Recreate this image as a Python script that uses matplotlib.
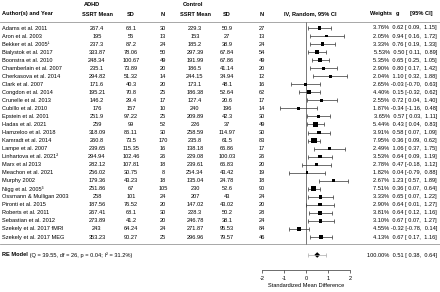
# forest plot: SSRT, ADHD vs control, random-effects meta-analysis

import numpy as np
import matplotlib
matplotlib.use('Agg')
import matplotlib.pyplot as plt

plt.rcParams['font.family'] = ['Liberation Sans', 'DejaVu Sans']
plt.rcParams['axes.unicode_minus'] = False

# Study data
authors = ['Adams et al. 2011', 'Aron et al. 2003', 'Bekker et al. 2005¹', 'Bialystok et al. 2017',
           'Boonstra et al. 2010', 'Chamberlain et al. 2007', 'Cherkasova et al. 2014', 'Clark et al. 2007',
           'Congdon et al. 2014', 'Crunelle et al. 2013', 'Cubillo et al. 2010', 'Epstein et al. 2001',
           'Hadas et al. 2021', 'Hamzeloo et al. 2018', 'Kamradt et al. 2014', 'Lampe et al. 2007',
           'Linhartova et al. 2021²', 'Marx et al 2013', 'Meachon et al. 2021', 'Murphy 2002',
           'Nigg et al. 2005³', 'Ossmann & Mulligan 2003', 'Pironti et al. 2015', 'Roberts et al. 2011',
           'Sebastian et al. 2012', 'Szekely et al. 2017 fMRI', 'Szekely et al. 2017 MEG']
adhd_mean = [267.4, 195, 237.3, 333.87, 248.34, 235.1, 294.82, 171.6, 195.21, 146.2, 176, 251.9, 259,
             318.09, 260.8, 239.65, 294.94, 282.12, 256.02, 179.36, 251.86, 258, 187.56, 267.41,
             273.89, 243, 353.23]
adhd_sd = [68.1, 55, 87.2, 78.06, 100.67, 73.89, 51.32, 40.3, 70.8, 29.4, 157, 97.22, 99, 86.11, 73.5,
           115.35, 102.46, 107.81, 30.75, 43.23, 67, 101, 76.52, 68.1, 41.2, 64.24, 90.27]
adhd_n = [30, 13, 24, 50, 49, 20, 14, 20, 25, 17, 10, 25, 52, 30, 170, 16, 26, 18, 8, 18, 105, 24, 20,
          30, 20, 24, 25]
ctrl_mean = [229.3, 153, 185.2, 297.39, 191.99, 186.5, 244.15, 173.1, 186.38, 127.4, 240, 209.89, 226,
             258.59, 235.8, 138.18, 229.08, 239.61, 254.34, 135.04, 230, 207, 147.02, 228.3, 246.78,
             271.87, 296.96]
ctrl_sd = [50.9, 27, 38.9, 67.84, 67.86, 41.14, 34.94, 48.1, 52.64, 20.6, 196, 42.3, 37, 114.97, 61.5,
           66.86, 100.03, 66.83, 43.42, 24.78, 52.6, 43, 43.02, 50.2, 38.1, 95.53, 79.57]
ctrl_n = [27, 13, 24, 54, 49, 20, 12, 16, 62, 17, 14, 30, 49, 30, 83, 17, 26, 20, 19, 18, 90, 24, 20,
          28, 24, 84, 46]
weights = [3.76, 2.05, 3.33, 5.53, 5.35, 2.90, 2.04, 2.65, 4.40, 2.55, 1.87, 3.65, 5.44, 3.91, 7.95,
           2.49, 3.53, 2.78, 1.82, 2.67, 7.51, 3.33, 2.90, 3.81, 3.10, 4.55, 4.13]
g = [0.62, 0.94, 0.76, 0.50, 0.65, 0.80, 1.10, -0.03, 0.15, 0.72, -0.34, 0.57, 0.43, 0.58, 0.36, 1.06,
     0.64, 0.47, 0.04, 1.23, 0.36, 0.65, 0.64, 0.64, 0.67, -0.32, 0.67]
ci_lo = [0.09, 0.16, 0.19, 0.11, 0.25, 0.17, 0.32, -0.70, -0.32, 0.04, -1.16, 0.03, 0.04, 0.07, 0.09,
         0.37, 0.09, -0.18, -0.79, 0.57, 0.07, 0.07, 0.01, 0.12, 0.07, -0.78, 0.17]
ci_hi = [1.15, 1.72, 1.33, 0.89, 1.05, 1.42, 1.88, 0.63, 0.62, 1.40, 0.48, 1.11, 0.83, 1.09, 0.62,
         1.75, 1.19, 1.12, 0.88, 1.89, 0.64, 1.22, 1.27, 1.16, 1.27, 0.14, 1.16]

# Pooled estimate
re_w, re_g, re_lo, re_hi = 100.0, 0.51, 0.38, 0.64
pi_lo, pi_hi = 0.10, 0.92
re_stats = '(Q = 39.55, df = 26, p = 0.04; I² = 31.2%)'

W, H = 440, 292
fs = 4.05


def px_box(x0, y0, x1, y1):
    return [x0 / W, 1 - y1 / H, (x1 - x0) / W, (y1 - y0) / H]


def annot(w, est, lo, hi):
    return f'{w:.2f}% {est:5.2f} [{lo:5.2f}, {hi:5.2f}]'


fig = plt.figure(figsize=(W / 100, H / 100), dpi=100)
ax = fig.add_axes([0, 0, 1, 1])
ax.set_xlim(0, W)
ax.set_ylim(H, 0)
ax.axis('off')

axf = fig.add_axes(px_box(262, 22, 350, 270))
axf.set_xlim(-2, 2)
axf.set_ylim(270, 22)
axf.patch.set_visible(False)

n = len(authors)
ys = 28 + np.arange(n) * 8.04
y_re = 255

# Headers
ax.text(84, 5, 'ADHD', fontsize=fs, fontweight='bold', va='center', ha='left')
ax.text(183, 5, 'Control', fontsize=fs, fontweight='bold', va='center', ha='left')
hdr = [(2, 'Author(s) and Year', 'left'), (97, 'SSRT Mean', 'center'), (131, 'SD', 'center'),
       (163, 'N', 'center'), (195, 'SSRT Mean', 'center'), (227, 'SD', 'center'),
       (262, 'N', 'center'), (310, 'IV, Random, 95% CI', 'center'), (381, 'Weights', 'center'),
       (397, 'g', 'center'), (421, '[95% CI]', 'center')]
for x, s, ha in hdr:
    ax.text(x, 14, s, fontsize=fs, fontweight='bold', va='center', ha=ha)

ax.axhline(21.5, color='#999999', lw=0.6)
ax.axhline(244, color='#999999', lw=0.6)

# Table rows
for i in range(n):
    y = ys[i]
    ax.text(2, y, authors[i], fontsize=fs, va='center', ha='left')
    ax.text(97, y, f'{adhd_mean[i]:g}', fontsize=fs, va='center', ha='center')
    ax.text(131, y, f'{adhd_sd[i]:g}', fontsize=fs, va='center', ha='center')
    ax.text(163, y, f'{adhd_n[i]}', fontsize=fs, va='center', ha='center')
    ax.text(195, y, f'{ctrl_mean[i]:g}', fontsize=fs, va='center', ha='center')
    ax.text(227, y, f'{ctrl_sd[i]:g}', fontsize=fs, va='center', ha='center')
    ax.text(262, y, f'{ctrl_n[i]}', fontsize=fs, va='center', ha='center')
    ax.text(437, y, annot(weights[i], g[i], ci_lo[i], ci_hi[i]), fontsize=fs, va='center', ha='right')

# RE model row
t1 = ax.text(2, y_re, 'RE Model', fontsize=fs, fontweight='bold', va='center', ha='left')
ax.annotate(' ' + re_stats, xy=(1, 0.5), xycoords=t1, fontsize=fs, va='center', ha='left')
ax.text(437, y_re, annot(re_w, re_g, re_lo, re_hi), fontsize=fs, va='center', ha='right')

# Forest part
g_arr = np.array(g)
xerr = [g_arr - np.array(ci_lo), np.array(ci_hi) - g_arr]
axf.vlines(0, 21.5, 244, color='#444444', lw=0.5)
axf.errorbar(g_arr, ys, xerr=xerr, fmt='none', ecolor='#333333', elinewidth=0.5,
             capsize=1.6, capthick=0.5, clip_on=False)
axf.scatter(g_arr, ys, marker='s', s=(1.35 * np.sqrt(weights)) ** 2, color='black',
            lw=0, zorder=3, clip_on=False)

axf.errorbar([re_g], [y_re], xerr=[[re_g - pi_lo], [pi_hi - re_g]], fmt='none', ecolor='#aaaaaa',
             elinewidth=0.5, capsize=1.6, capthick=0.5)
axf.fill([re_lo, re_g, re_hi, re_g], [y_re, y_re - 2.8, y_re, y_re + 2.8], color='black', lw=0)

for side in ['top', 'left', 'right']:
    axf.spines[side].set_visible(False)
axf.spines['bottom'].set_linewidth(0.5)
axf.spines['bottom'].set_color('#333333')
axf.set_yticks([])
axf.set_xticks([-2, -1, 0, 1, 2])
axf.tick_params(axis='x', length=2, width=0.5, labelsize=fs, pad=2, color='#333333')
axf.set_xlabel('Standardized Mean Difference', fontsize=fs, labelpad=2)

fig.savefig('out.png', dpi=100)
